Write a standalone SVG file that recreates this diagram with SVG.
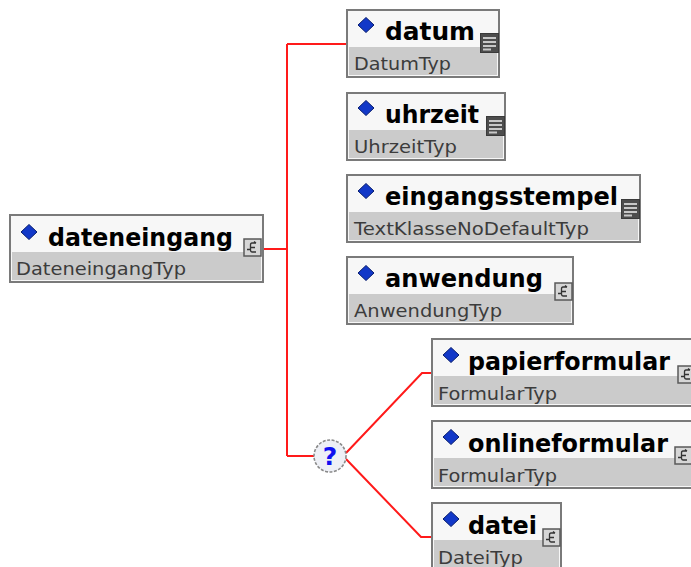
<svg xmlns="http://www.w3.org/2000/svg" xmlns:xlink="http://www.w3.org/1999/xlink" width="691" height="567" viewBox="0 0 691 567">
<style>
.box{fill:#f7f7f7;stroke:#7a7a7a;stroke-width:2}
.band{fill:#cbcbcb}
.title{font-family:"DejaVu Sans",Verdana,sans-serif;font-weight:bold;font-size:25px;fill:#000}
.sub{font-family:"DejaVu Sans",Verdana,sans-serif;font-size:18px;fill:#3c3c3c}
.conn{fill:none;stroke:#ff1a1a;stroke-width:2}
</style>
<defs>
<path id="dia" d="M0,-7.5 L8,0 L0,7.5 L-8,0 Z" fill="#1238c8" stroke="#0a1f6e" stroke-width="1"/>
<g id="simple">
<rect x="0.5" y="0.5" width="18" height="19" fill="#4d4d4d" stroke="#3a3a3a" stroke-width="1"/>
<path d="M3,5 H16 M3,9 H16 M3,13 H16 M3,16.5 H11" stroke="#c8c8c8" stroke-width="2"/>
</g>
<g id="complex">
<rect x="1" y="1" width="17" height="17" fill="#d6d6d6" stroke="#5a5a5a" stroke-width="1.5"/>
<path d="M13,5 H9 Q7.5,5 7.5,7 V12 Q7.5,14 9,14 H13 M7.5,9.5 H12 M4,11.5 H7.5 M11,3.5 L13,5" fill="none" stroke="#333" stroke-width="1.3"/>
</g>
</defs>

<g id="connectors">
<path class="conn" d="M263,249 H287"/>
<path class="conn" d="M287,44 V456"/>
<path class="conn" d="M287,44 H347"/>
<path class="conn" d="M287,456 H314"/>
<path class="conn" d="M346,453 L422,373 H432"/>
<path class="conn" d="M346,459 L421,537 H432"/>
</g>

<g id="choice">
<circle cx="330" cy="456" r="16" fill="#eef0f6" stroke="#8a8a8a" stroke-width="1.6" stroke-dasharray="3 1.5"/>
<text x="330" y="465" text-anchor="middle" style="font-family:'DejaVu Sans',Verdana,sans-serif;font-weight:bold;font-size:25px;fill:#1010f0">?</text>
</g>

<g id="node-dateneingang">
<rect class="box" x="10" y="215" width="253" height="67"/>
<rect class="band" x="12" y="252" width="249" height="28"/>
<use xlink:href="#dia" x="29" y="232"/>
<text class="title" x="48" y="246" textLength="185" lengthAdjust="spacingAndGlyphs">dateneingang</text>
<text class="sub" x="16" y="275" textLength="170" lengthAdjust="spacingAndGlyphs">DateneingangTyp</text>
<use xlink:href="#complex" x="243" y="238"/>
</g>

<g id="node-datum">
<rect class="box" x="347" y="10" width="152" height="67"/>
<rect class="band" x="349" y="47" width="148" height="28"/>
<use xlink:href="#dia" x="366" y="25"/>
<text class="title" x="385" y="40" textLength="90" lengthAdjust="spacingAndGlyphs">datum</text>
<text class="sub" x="354" y="70" textLength="97" lengthAdjust="spacingAndGlyphs">DatumTyp</text>
<use xlink:href="#simple" x="480" y="33"/>
</g>

<g id="node-uhrzeit">
<rect class="box" x="347" y="93" width="158" height="67"/>
<rect class="band" x="349" y="130" width="154" height="28"/>
<use xlink:href="#dia" x="366" y="108"/>
<text class="title" x="385" y="123" textLength="94" lengthAdjust="spacingAndGlyphs">uhrzeit</text>
<text class="sub" x="354" y="153" textLength="103" lengthAdjust="spacingAndGlyphs">UhrzeitTyp</text>
<use xlink:href="#simple" x="486" y="116"/>
</g>

<g id="node-eingangsstempel">
<rect class="box" x="347" y="175" width="293" height="67"/>
<rect class="band" x="349" y="212" width="289" height="28"/>
<use xlink:href="#dia" x="366" y="191"/>
<text class="title" x="385" y="205" textLength="233" lengthAdjust="spacingAndGlyphs">eingangsstempel</text>
<text class="sub" x="354" y="235" textLength="235" lengthAdjust="spacingAndGlyphs">TextKlasseNoDefaultTyp</text>
<use xlink:href="#simple" x="621" y="199"/>
</g>

<g id="node-anwendung">
<rect class="box" x="347" y="257" width="226" height="67"/>
<rect class="band" x="349" y="294" width="222" height="28"/>
<use xlink:href="#dia" x="366" y="273"/>
<text class="title" x="385" y="287" textLength="158" lengthAdjust="spacingAndGlyphs">anwendung</text>
<text class="sub" x="354" y="317" textLength="148" lengthAdjust="spacingAndGlyphs">AnwendungTyp</text>
<use xlink:href="#complex" x="554" y="282"/>
</g>

<g id="node-papierformular">
<rect class="box" x="432" y="339" width="265" height="67"/>
<rect class="band" x="434" y="376" width="261" height="28"/>
<use xlink:href="#dia" x="451" y="355"/>
<text class="title" x="468" y="370" textLength="202" lengthAdjust="spacingAndGlyphs">papierformular</text>
<text class="sub" x="438" y="400" textLength="119" lengthAdjust="spacingAndGlyphs">FormularTyp</text>
<use xlink:href="#complex" x="677" y="365"/>
</g>

<g id="node-onlineformular">
<rect class="box" x="432" y="421" width="262" height="67"/>
<rect class="band" x="434" y="458" width="258" height="28"/>
<use xlink:href="#dia" x="451" y="437"/>
<text class="title" x="468" y="452" textLength="200" lengthAdjust="spacingAndGlyphs">onlineformular</text>
<text class="sub" x="438" y="482" textLength="119" lengthAdjust="spacingAndGlyphs">FormularTyp</text>
<use xlink:href="#complex" x="674" y="446"/>
</g>

<g id="node-datei">
<rect class="box" x="432" y="503" width="129" height="67"/>
<rect class="band" x="434" y="540" width="125" height="28"/>
<use xlink:href="#dia" x="451" y="519"/>
<text class="title" x="468" y="534" textLength="69" lengthAdjust="spacingAndGlyphs">datei</text>
<text class="sub" x="438" y="564" textLength="85" lengthAdjust="spacingAndGlyphs">DateiTyp</text>
<use xlink:href="#complex" x="542" y="528"/>
</g>
</svg>
